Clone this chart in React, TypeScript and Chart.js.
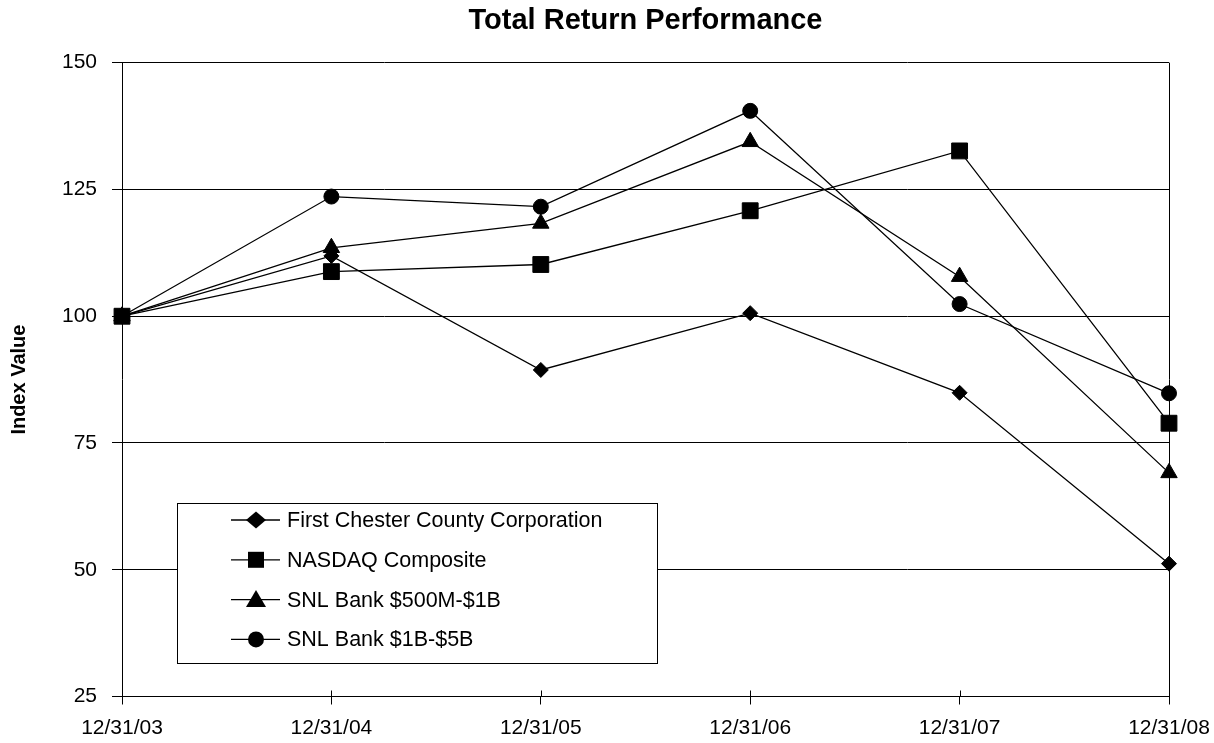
import React, { useEffect, useRef } from 'react';
import { Chart, registerables } from 'chart.js';

Chart.register(...registerables);

const categories = ['12/31/03', '12/31/04', '12/31/05', '12/31/06', '12/31/07', '12/31/08'];
const seriesNames = [
  'First Chester County Corporation',
  'NASDAQ Composite',
  'SNL Bank $500M-$1B',
  'SNL Bank $1B-$5B',
];
const firstChester = [100, 111.9, 89.4, 100.6, 84.9, 51.2];
const nasdaq = [100, 108.8, 110.2, 120.8, 132.6, 78.9];
const snl500 = [100, 113.5, 118.3, 134.4, 107.8, 69.1];
const snl1b = [100, 123.6, 121.6, 140.5, 102.4, 84.8];
const yMin = 25;
const yMax = 150;
const yStep = 25;

const FONT = '"Liberation Sans", Arial, Helvetica, sans-serif';

function drawMarker(ctx: CanvasRenderingContext2D, style: string, x: number, y: number) {
  ctx.beginPath();
  if (style === 'rectRot') {
    ctx.moveTo(x - 10, y);
    ctx.lineTo(x, y - 8.5);
    ctx.lineTo(x + 10, y);
    ctx.lineTo(x, y + 8.5);
    ctx.closePath();
  } else if (style === 'rect') {
    ctx.rect(x - 8, y - 8, 16, 16);
  } else if (style === 'triangle') {
    ctx.moveTo(x, y - 9.5);
    ctx.lineTo(x + 10, y + 7.5);
    ctx.lineTo(x - 10, y + 7.5);
    ctx.closePath();
  } else {
    ctx.arc(x, y, 8, 0, Math.PI * 2);
  }
  ctx.fill();
}

const framePlugin = {
  id: 'frameTicks',
  beforeDatasetsDraw(chart: any) {
    const { ctx, chartArea } = chart;
    const xs = chart.scales.x;
    ctx.save();
    ctx.strokeStyle = '#000';
    ctx.lineWidth = 1;
    ctx.beginPath();
    for (let i = 0; i < xs.ticks.length; i++) {
      const px = Math.round(xs.getPixelForTick(i)) + 0.5;
      ctx.moveTo(px, chartArea.bottom - 6);
      ctx.lineTo(px, chartArea.bottom);
    }
    const rx = Math.round(chartArea.right) + 0.5;
    ctx.moveTo(rx, chartArea.top);
    ctx.lineTo(rx, chartArea.bottom);
    ctx.stroke();
    ctx.restore();
  },
};

const boxLegendPlugin = {
  id: 'boxLegend',
  afterDraw(chart: any) {
    const { ctx, chartArea } = chart;
    const x0 = Math.round(chartArea.left + 55);
    const y0 = Math.round(chartArea.top + 440);
    const w = 480;
    const h = 160;
    ctx.save();
    ctx.fillStyle = '#fff';
    ctx.fillRect(x0, y0, w, h);
    ctx.strokeStyle = '#000';
    ctx.lineWidth = 1;
    ctx.strokeRect(x0 + 0.5, y0 + 0.5, w, h);
    chart.data.datasets.forEach((ds: any, i: number) => {
      const cy = y0 + 17 + i * 39.8;
      ctx.beginPath();
      ctx.strokeStyle = '#000';
      ctx.lineWidth = 1.3;
      ctx.moveTo(x0 + 54, cy);
      ctx.lineTo(x0 + 103, cy);
      ctx.stroke();
      ctx.fillStyle = '#000';
      drawMarker(ctx, ds.pointStyle, x0 + 79, cy);
      ctx.font = `21.5px ${FONT}`;
      ctx.textBaseline = 'middle';
      ctx.textAlign = 'left';
      ctx.fillText(ds.label, x0 + 110, cy + 1);
    });
    ctx.restore();
  },
};

export default function App() {
  const canvasRef = useRef<HTMLCanvasElement | null>(null);

  useEffect(() => {
    if (!canvasRef.current) return;
    Chart.defaults.font.family = FONT;
    Chart.defaults.color = '#000';
    const mk = (label: string, data: number[], pointStyle: string, radius: number) => ({
      label,
      data,
      pointStyle,
      pointRadius: radius,
      pointHoverRadius: radius,
      borderColor: '#000',
      backgroundColor: '#000',
      pointBackgroundColor: '#000',
      pointBorderColor: '#000',
      pointBorderWidth: 1,
      borderWidth: 1.3,
      tension: 0,
      fill: false,
    });
    const chart = new Chart(canvasRef.current, {
      type: 'line',
      data: {
        labels: categories,
        datasets: [
          mk(seriesNames[0], firstChester, 'rectRot', 7.5),
          mk(seriesNames[1], nasdaq, 'rect', 11.2),
          mk(seriesNames[2], snl500, 'triangle', 9.5),
          mk(seriesNames[3], snl1b, 'circle', 7.5),
        ] as any,
      },
      options: {
        responsive: false,
        animation: false,
        layout: { padding: { left: 0, right: 45, top: 0, bottom: 0 } },
        plugins: {
          legend: { display: false },
          tooltip: { enabled: false },
          title: {
            display: true,
            text: 'Total Return Performance',
            fullSize: false,
            color: '#000',
            font: { size: 29, weight: 'bold', family: FONT, lineHeight: 1.2 },
            padding: { top: 3.6, bottom: 24.3 },
          },
        },
        scales: {
          x: {
            offset: false,
            grid: {
              display: true,
              drawOnChartArea: false,
              drawTicks: true,
              tickLength: 8,
              color: '#000',
              lineWidth: 1,
            },
            border: { display: true, color: '#000', width: 1 },
            ticks: { font: { size: 21, family: FONT, lineHeight: 1.2 }, color: '#000', padding: 11, maxRotation: 0, autoSkip: false },
            afterFit: (scale: any) => {
              scale.height = 46.5;
              scale.paddingLeft = 0;
              scale.paddingRight = 0;
            },
          },
          y: {
            min: yMin,
            max: yMax,
            grid: {
              display: true,
              drawTicks: true,
              tickLength: 10,
              color: '#000',
              lineWidth: 1,
            },
            border: { display: true, color: '#000', width: 1 },
            ticks: { stepSize: yStep, font: { size: 21, family: FONT, lineHeight: 1.2 }, color: '#000', padding: 15 },
            title: {
              display: true,
              text: 'Index Value',
              color: '#000',
              font: { size: 20, weight: 'bold', family: FONT, lineHeight: 1.2 },
              padding: { top: 7, bottom: 0 },
            },
            afterFit: (scale: any) => {
              scale.width = 122;
            },
          },
        },
      },
      plugins: [framePlugin, boxLegendPlugin],
    });
    return () => chart.destroy();
  }, []);

  return (
    <div style={{ position: 'absolute', left: 0, top: 0, width: 1214, height: 743, background: '#fff' }}>
      <canvas ref={canvasRef} width={1214} height={743} style={{ display: 'block' }} />
    </div>
  );
}
